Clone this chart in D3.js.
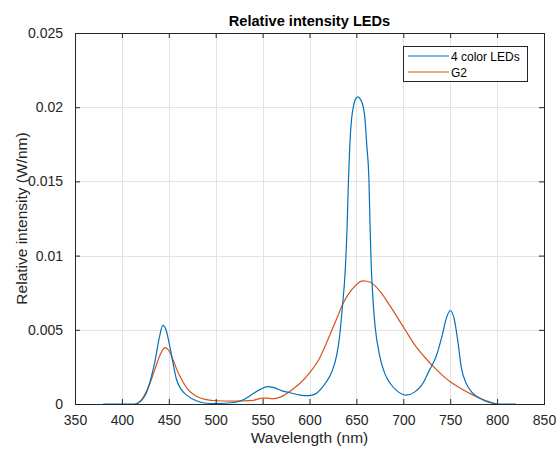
<!DOCTYPE html>
<meta charset="utf-8">
<style>
body { margin: 0; background: #fff; }
svg { font-family: "Liberation Sans", Arial, Helvetica, sans-serif; }
.grid line { stroke: #e3e3e3; stroke-width: 1; }
.tick-label { font-size: 14px; fill: #262626; }
.title { font-size: 14.6px; font-weight: bold; fill: #000; text-anchor: middle; }
.axis-label { font-size: 15.5px; fill: #262626; text-anchor: middle; }
.legend text { font-size: 12px; fill: #000; }
</style>
<svg width="560" height="450"></svg>
<script src="https://d3js.org/d3.v7.min.js"></script>
<script>

// wavelength (nm) and intensity (W/nm)
var ledWave = [380, 415, 420, 425, 430, 435, 440, 443.5, 447, 451, 455, 458, 463, 469, 480, 490, 500, 520, 530, 540, 548, 555, 562, 570, 579, 590, 599, 607, 612, 618, 624, 629, 632, 635, 638, 640, 641.5, 643, 645, 647, 649.5, 652, 654.5, 657, 659, 661, 663.4, 664.5, 665.6, 667.5, 670, 675, 680, 686, 693, 703, 712, 720, 728, 735, 741, 746, 750, 754, 758, 762, 767, 773, 785, 795, 800, 820];
var ledVal = [0, 0, 0.0002, 0.0006, 0.0015, 0.0028, 0.0045, 0.0053, 0.005, 0.0039, 0.0026, 0.0017, 0.001, 0.0006, 0.0002, 0.00005, 0.00003, 0.0001, 0.0003, 0.0007, 0.001, 0.00117, 0.0011, 0.0009, 0.00076, 0.0006, 0.00056, 0.0007, 0.001, 0.0015, 0.0022, 0.0033, 0.0045, 0.0065, 0.0089, 0.0118, 0.015, 0.0175, 0.0193, 0.0201, 0.0206, 0.0207, 0.0205, 0.0201, 0.0193, 0.0175, 0.015, 0.0122, 0.0097, 0.0072, 0.0052, 0.0032, 0.0021, 0.0014, 0.0009, 0.0006, 0.0008, 0.0013, 0.0023, 0.0032, 0.0045, 0.0058, 0.0063, 0.0058, 0.0043, 0.0024, 0.0014, 0.0008, 0.00027, 0.00005, 0, 0];

var g2Wave = [414, 420, 425, 430, 435, 440, 446, 451, 455, 460, 465, 470, 480, 490, 500, 520, 540, 550, 555, 560, 570, 580, 590, 600, 610, 618, 624, 630, 636, 645, 657, 665, 675, 685, 700, 712, 725, 734, 750, 760, 773, 785, 800];
var g2Val = [0, 0.0002, 0.0007, 0.0014, 0.0023, 0.0032, 0.0038, 0.0035, 0.0029, 0.0021, 0.0015, 0.001, 0.0005, 0.0003, 0.00022, 0.0002, 0.00025, 0.0004, 0.0004, 0.00035, 0.0005, 0.0009, 0.0014, 0.0021, 0.003, 0.0041, 0.005, 0.0059, 0.0068, 0.0077, 0.0083, 0.0082, 0.0076, 0.0067, 0.0052, 0.004, 0.003, 0.0024, 0.0015, 0.0011, 0.00065, 0.0003, 0];

var seriesNames = ["4 color LEDs", "G2"];
var seriesColors = ["#0072BD", "#D95319"];
var xTicks = [350, 400, 450, 500, 550, 600, 650, 700, 750, 800, 850];
var yTicks = [0, 0.005, 0.01, 0.015, 0.02, 0.025];

var svg = d3.select("svg"),
    mLeft = 75, mRight = 544, mTop = 33, mBottom = 404;

var x = d3.scaleLinear().domain([350, 850]).range([mLeft, mRight]);
var y = d3.scaleLinear().domain([0, 0.025]).range([mBottom, mTop]);

// grid
var grid = svg.append("g").attr("class", "grid");
grid.selectAll(".gx").data(xTicks.slice(1, -1)).enter().append("line")
    .attr("x1", function(d) { return Math.round(x(d)) + 0.5; }).attr("x2", function(d) { return Math.round(x(d)) + 0.5; })
    .attr("y1", mTop).attr("y2", mBottom);
grid.selectAll(".gy").data(yTicks.slice(1, -1)).enter().append("line")
    .attr("y1", function(d) { return Math.round(y(d)) + 0.5; }).attr("y2", function(d) { return Math.round(y(d)) + 0.5; })
    .attr("x1", mLeft).attr("x2", mRight);

// data lines
var series = [
  ledWave.map(function(w, i) { return [w, ledVal[i]]; }),
  g2Wave.map(function(w, i) { return [w, g2Val[i]]; })
];
var line = d3.line()
    .x(function(d) { return x(d[0]); })
    .y(function(d) { return y(d[1]); })
    .curve(d3.curveMonotoneX);

svg.selectAll(".series").data([1, 0]).enter().append("path")
    .attr("fill", "none")
    .attr("stroke", function(i) { return seriesColors[i]; })
    .attr("stroke-width", 1.2)
    .attr("d", function(i) { return line(series[i]); });

// axes (box with inward ticks on every side)
var fmtY = function(d) { return d === 0 ? "0" : String(+d.toFixed(3)); };
var axisColor = "#262626";

function styleAxis(g) {
  g.select(".domain").remove();
  g.selectAll("line").attr("stroke", axisColor);
  g.selectAll("text").attr("class", "tick-label").attr("font-family", null).attr("font-size", null).attr("fill", null);
}

svg.append("g").attr("transform", "translate(0," + mBottom + ")")
    .call(d3.axisBottom(x).tickValues(xTicks).tickSizeInner(-5).tickSizeOuter(0).tickPadding(11))
    .call(styleAxis);
svg.append("g").attr("transform", "translate(0," + mTop + ")")
    .call(d3.axisTop(x).tickValues(xTicks).tickSizeInner(-5).tickSizeOuter(0).tickFormat(""))
    .call(styleAxis);
svg.append("g").attr("transform", "translate(" + mLeft + ",0)")
    .call(d3.axisLeft(y).tickValues(yTicks).tickFormat(fmtY).tickSizeInner(-5).tickSizeOuter(0).tickPadding(12))
    .call(styleAxis);
svg.append("g").attr("transform", "translate(" + mRight + ",0)")
    .call(d3.axisRight(y).tickValues(yTicks).tickSizeInner(-5).tickSizeOuter(0).tickFormat(""))
    .call(styleAxis);

svg.append("rect")
    .attr("x", mLeft + 0.5).attr("y", mTop + 0.5)
    .attr("width", mRight - mLeft).attr("height", mBottom - mTop)
    .attr("fill", "none").attr("stroke", axisColor).attr("stroke-width", 1);

// labels
svg.append("text").attr("class", "title")
    .attr("x", (mLeft + mRight) / 2).attr("y", 26).text("Relative intensity LEDs");
svg.append("text").attr("class", "axis-label")
    .attr("x", (mLeft + mRight) / 2).attr("y", 443).text("Wavelength (nm)");
svg.append("text").attr("class", "axis-label")
    .attr("transform", "translate(27," + (mTop + mBottom) / 2 + ") rotate(-90)")
    .text("Relative intensity (W/nm)");

// legend
var legend = svg.append("g").attr("class", "legend");
legend.append("rect")
    .attr("x", 403.5).attr("y", 46.5).attr("width", 124).attr("height", 35)
    .attr("fill", "#fff").attr("stroke", axisColor);
var item = legend.selectAll(".item").data(seriesNames).enter().append("g")
    .attr("transform", function(d, i) { return "translate(0," + (56 + i * 16) + ")"; });
item.append("line")
    .attr("x1", 408).attr("x2", 449).attr("y1", 0).attr("y2", 0)
    .attr("stroke", function(d, i) { return seriesColors[i]; }).attr("stroke-width", 1.2);
item.append("text")
    .attr("x", 451).attr("y", 4.5).text(function(d) { return d; });

</script>
